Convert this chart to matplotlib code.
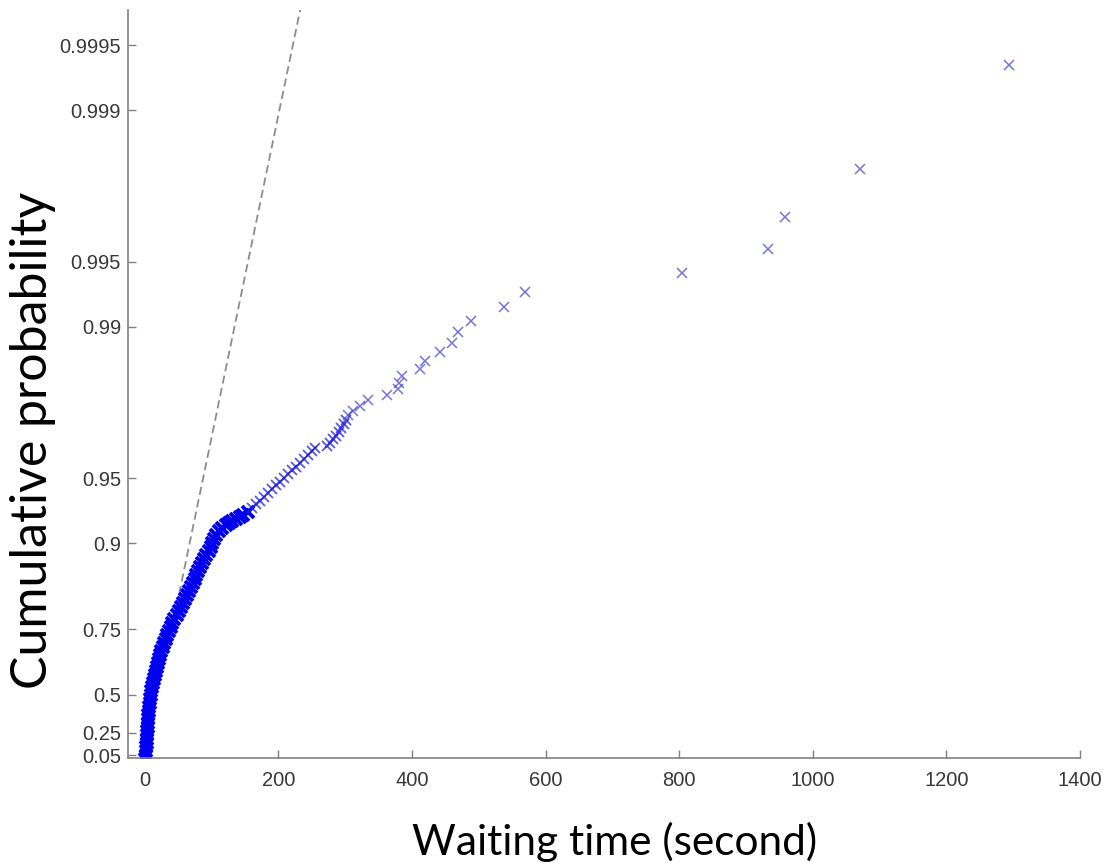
import matplotlib
matplotlib.use('Agg')
import matplotlib.pyplot as plt
import numpy as np

# waiting times (s) and cumulative probabilities
# dense band (bottom up)
body_time = [0.9, 1.3, 1.8, 2.2, 2.7, 3.0, 3.6, 3.9, 4.3, 4.6, 5.1, 5.4, 6.0, 6.7,
             7.5, 7.9, 9.0, 9.7, 11.2, 12.4, 13.6, 15.1, 16.5, 18.0, 20.1, 21.1,
             23.4, 24.9, 27.2, 29.5, 31.9, 34.0, 36.4, 38.9, 41.6, 44.5, 47.6,
             50.6, 53.6, 56.6, 59.6, 62.6, 65.6, 68.6, 71.6, 74.6, 77.5, 80.5,
             83.5, 86.5, 89.5, 92.5, 95.5, 98.5, 101.2, 103.7, 106.7, 111.8,
             115.9, 121.1, 125.9, 130.7, 136.7, 142.7, 147.5, 154.6]
body_prob = [0.0088, 0.0500, 0.0895, 0.1275, 0.1638, 0.1986, 0.2320, 0.2640,
             0.2946, 0.3240, 0.3522, 0.3791, 0.4050, 0.4298, 0.4535, 0.4763,
             0.4981, 0.5190, 0.5390, 0.5582, 0.5766, 0.5942, 0.6111, 0.6273,
             0.6428, 0.6577, 0.6720, 0.6857, 0.6987, 0.7113, 0.7233, 0.7348,
             0.7459, 0.7565, 0.7666, 0.7763, 0.7856, 0.7946, 0.8031, 0.8113,
             0.8192, 0.8267, 0.8339, 0.8408, 0.8474, 0.8538, 0.8599, 0.8657,
             0.8713, 0.8767, 0.8818, 0.8867, 0.8914, 0.8959, 0.9003, 0.9044,
             0.9084, 0.9122, 0.9150, 0.9177, 0.9194, 0.9211, 0.9228, 0.9244,
             0.9260, 0.9283]
# looser run between 0.93 and 0.975
mid_time = [160.6, 166.6, 172.6, 178.6, 184.6, 190.6, 196.6, 202.5, 208.5,
            214.5, 220.5, 226.5, 232.5, 238.5, 244.5, 250.4, 254.9,
            272.9, 277.4, 281.9, 286.4, 290.1, 293.9, 297.6, 301.3]
mid_prob = [0.9312, 0.9339, 0.9365, 0.9390, 0.9414, 0.9437, 0.9460, 0.9481,
            0.9502, 0.9521, 0.9540, 0.9558, 0.9576, 0.9593, 0.9609, 0.9624,
            0.9636, 0.96438, 0.96563, 0.96688, 0.96813, 0.96938, 0.97063,
            0.97188, 0.97313]
# individual points of the upper tail
tail_time = [304.8, 312.3, 322.3, 334.7, 363.2, 379.6, 380.7, 384.7, 412.1,
             419.6, 442.1, 459.6, 468.6, 488.5, 537.9, 569.3, 803.9, 932.6,
             958.5, 1070.8, 1293.0]
tail_prob = [0.97438, 0.97563, 0.97688, 0.97813, 0.97938, 0.98063, 0.98188,
             0.98313, 0.98438, 0.98563, 0.98688, 0.98813, 0.98938, 0.99063,
             0.99188, 0.99313, 0.99438, 0.99563, 0.99688, 0.99813, 0.99938]

# exponential reference line (mean about 29 s)
ref_time = [40, 250]
ref_prob = [0.7458, 0.99981]

prob_ticks = [0.05, 0.25, 0.5, 0.75, 0.9, 0.95, 0.99, 0.995, 0.999, 0.9995]
prob_labels = ['0.05', '0.25', '0.5', '0.75', '0.9', '0.95', '0.99', '0.995',
               '0.999', '0.9995']
time_ticks = [0, 200, 400, 600, 800, 1000, 1200, 1400]


def fwd(p):
    p = np.clip(np.asarray(p, dtype=float), -0.5, 1 - 1e-9)
    return -np.log(1 - p)


def inv(t):
    return 1 - np.exp(-np.asarray(t, dtype=float))


fig = plt.figure(figsize=(11.09, 8.67), dpi=100)
ax = fig.add_axes([128 / 1109, 1 - 758 / 867, 952 / 1109, 748 / 867])
ax.set_yscale('function', functions=(fwd, inv))

ax.plot(ref_time, ref_prob, color='#8c8c8c', linewidth=1.3,
        linestyle=(0, (4.5, 2.5)), zorder=1)

# many overlapping points in the body -> solid band
ax.plot(body_time, body_prob, linestyle='none', marker='x', markersize=8.5,
        markeredgewidth=2.8, color='#0000f0', zorder=2)
ax.plot(mid_time, mid_prob, linestyle='none', marker='x', markersize=7,
        markeredgewidth=1.3, color='#2020d8', alpha=0.75, zorder=2)
ax.plot(tail_time, tail_prob, linestyle='none', marker='x', markersize=6.5,
        markeredgewidth=1.1, color='#3a3ac8', alpha=0.7, zorder=2)

ax.set_xlim(-25, 1400)
ax.set_ylim(0.0192, 0.999656)
ax.set_yticks(prob_ticks)
ax.set_yticklabels(prob_labels)
ax.set_xticks(time_ticks)
ax.yaxis.set_minor_locator(matplotlib.ticker.NullLocator())

for side in ['top', 'right']:
    ax.spines[side].set_visible(False)
for side in ['left', 'bottom']:
    ax.spines[side].set_color('#808080')
    ax.spines[side].set_linewidth(1.2)

ax.tick_params(direction='in', length=6, width=1, color='#808080',
               labelcolor='#383838', labelsize=14.5)
ax.tick_params(axis='y', pad=5)
ax.tick_params(axis='x', pad=9)
for lab in ax.get_xticklabels() + ax.get_yticklabels():
    lab.set_family(['Liberation Sans', 'DejaVu Sans'])

fig.text(615 / 1109, 1 - 842 / 867, 'Waiting time (second)', ha='center',
         va='center', fontsize=30.5, family=['Lato', 'DejaVu Sans'])
fig.text(33 / 1109, 1 - 440 / 867, 'Cumulative probability', ha='center',
         va='center', rotation=90, fontsize=36, family=['Lato', 'DejaVu Sans'])

fig.savefig('out.png', dpi=100)
